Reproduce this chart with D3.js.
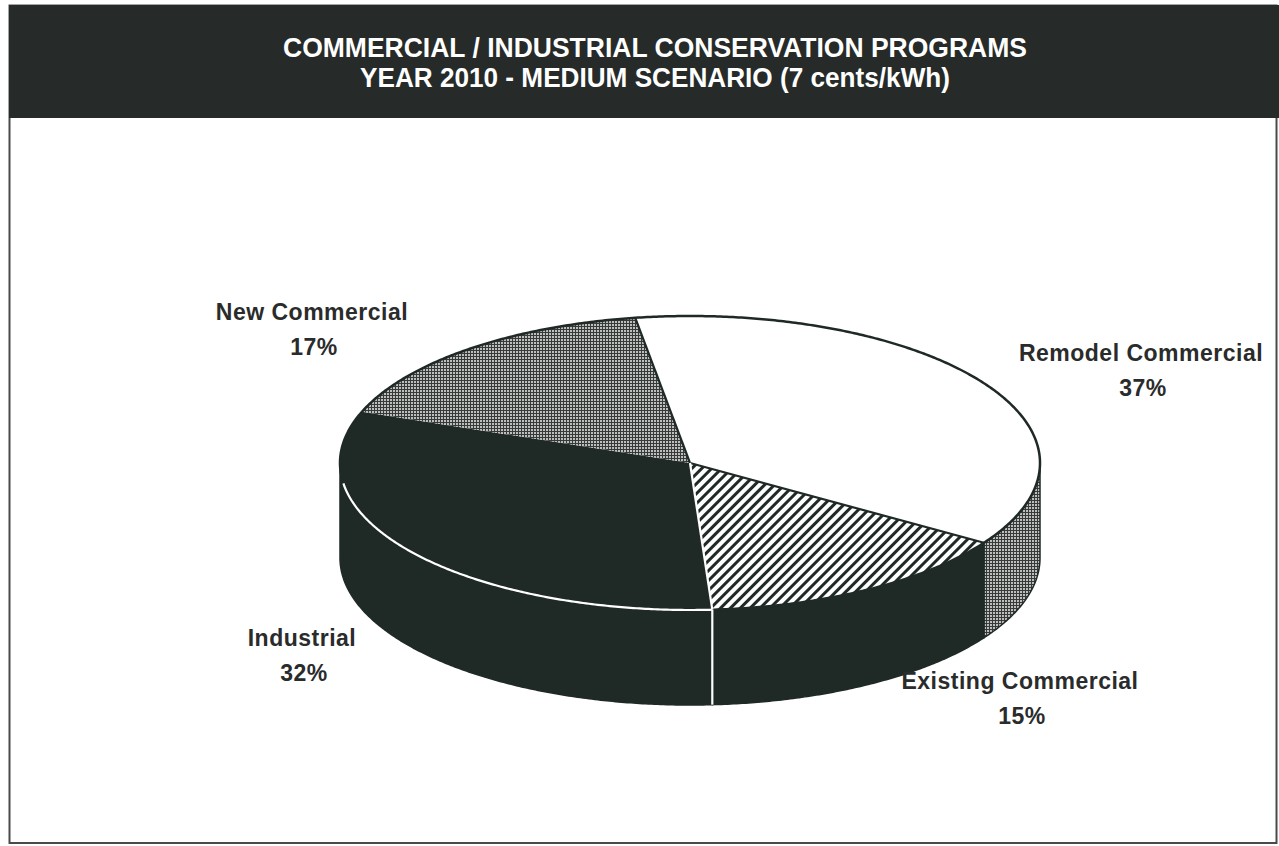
<!DOCTYPE html>
<html>
<head>
<meta charset="utf-8">
<script src="https://cdn.jsdelivr.net/npm/d3@7"></script>
<style>
  html, body { margin: 0; padding: 0; background: #ffffff; }
  svg { display: block; }
</style>
</head>
<body>
<svg id="chart" width="1279" height="846"></svg>
<script>
// ---- data ----
const titleLines = [
  "COMMERCIAL / INDUSTRIAL CONSERVATION PROGRAMS",
  "YEAR 2010 - MEDIUM SCENARIO (7 cents/kWh)"
];
const categories = ["Remodel Commercial", "Existing Commercial", "Industrial", "New Commercial"];
const shares = [37, 15, 32, 17];
const shareLabels = ["37%", "15%", "32%", "17%"];

// ---- layout & styling ----
const W = 1279, H = 846;
const DARK = "#1f2a27";
const INK = "#2a2b2b";
const cx = 690, cy = 463, rx = 350, ry = 147, depth = 95;
const deg = Math.PI / 180;

const svg = d3.select("#chart");
const defs = svg.append("defs");

// diagonal hatch
const hatch = defs.append("pattern")
  .attr("id", "hatch").attr("patternUnits", "userSpaceOnUse")
  .attr("width", 7).attr("height", 7)
  .attr("patternTransform", "rotate(45)");
hatch.append("rect").attr("width", 7).attr("height", 7).attr("fill", "#ffffff");
hatch.append("rect").attr("width", 3).attr("height", 7).attr("fill", DARK);

// fine stipple
const dots = defs.append("pattern")
  .attr("id", "stipple").attr("patternUnits", "userSpaceOnUse")
  .attr("width", 3).attr("height", 3);
dots.append("rect").attr("width", 3).attr("height", 3).attr("fill", "#363b39");
dots.append("rect").attr("width", 2).attr("height", 2).attr("fill", "#bdbebd");

const topFill = {
  "Remodel Commercial": "#ffffff",
  "Existing Commercial": "url(#hatch)",
  "Industrial": DARK,
  "New Commercial": "url(#stipple)"
};
const sideFill = {
  "Remodel Commercial": "url(#stipple)",
  "Existing Commercial": DARK,
  "Industrial": DARK,
  "New Commercial": "url(#stipple)"
};

// label anchor points (centre x, baseline of the name line)
const labelPos = {
  "Remodel Commercial": [1141, 361],
  "Existing Commercial": [1020, 689],
  "Industrial": [302, 646],
  "New Commercial": [312, 320]
};

// ---- frame & title band ----
svg.append("rect")
  .attr("x", 9.5).attr("y", 5.5).attr("width", 1267).attr("height", 837.5)
  .attr("fill", "none").attr("stroke", "#4a4a4a").attr("stroke-width", 2);
svg.append("rect")
  .attr("x", 9).attr("y", 5).attr("width", W - 9).attr("height", 113)
  .attr("fill", "#262a28");

const titleWidths = [744, 590];
svg.selectAll("text.title")
  .data(titleLines)
  .join("text")
  .attr("class", "title")
  .attr("x", 655)
  .attr("y", (d, i) => 57 + i * 30)
  .attr("text-anchor", "middle")
  .attr("fill", "#ffffff")
  .attr("font-family", "'Liberation Sans Narrow', 'Arial Narrow', 'Liberation Sans', Arial, sans-serif")
  .attr("font-weight", "bold")
  .attr("font-size", 27)
  .attr("textLength", (d, i) => titleWidths[i])
  .attr("lengthAdjust", "spacingAndGlyphs")
  .text(d => d);

// ---- pie geometry ----
const rows = categories.map((c, i) => ({ cat: c, value: shares[i], label: shareLabels[i] }));
const pie = d3.pie()
  .sort(null)
  .value(d => d.value)
  .startAngle(-9 * deg)
  .endAngle(351 * deg);
const arcs = pie(rows);

// d3 angle (0 at 12 o'clock, clockwise) -> point on the tilted ellipse
const pt = (a, dy = 0) => [cx + rx * Math.sin(a), cy - ry * Math.cos(a) + dy];
const sweep = (a0, a1, dy = 0) => {
  const n = Math.max(2, Math.ceil(Math.abs(a1 - a0) / (0.5 * deg)));
  return d3.range(n + 1).map(i => pt(a0 + (a1 - a0) * i / n, dy));
};
const line = d3.line();

// visible side walls: front half only (angles between 90° and 270°)
const front0 = Math.PI / 2, front1 = 3 * Math.PI / 2;
const sides = arcs.map(a => {
  const s = Math.max(a.startAngle, front0), e = Math.min(a.endAngle, front1);
  return s < e ? { a, s, e } : null;
}).filter(Boolean);

svg.append("g").selectAll("path")
  .data(sides)
  .join("path")
  .attr("d", d => line(sweep(d.s, d.e).concat(sweep(d.e, d.s, depth))) + "Z")
  .attr("fill", d => sideFill[d.a.data.cat])
  .attr("stroke", DARK)
  .attr("stroke-width", 1.5)
  .attr("stroke-linejoin", "round");

// top faces
svg.append("g").selectAll("path")
  .data(arcs)
  .join("path")
  .attr("d", a => line([[cx, cy]].concat(sweep(a.startAngle, a.endAngle))) + "Z")
  .attr("fill", a => topFill[a.data.cat])
  .attr("stroke", "none");

// rim of the top face
svg.append("path")
  .attr("d", line(sweep(0, 2 * Math.PI)) + "Z")
  .attr("fill", "none")
  .attr("stroke", DARK)
  .attr("stroke-width", 2.5);

// slice divider lines
const byCat = Object.fromEntries(arcs.map(a => [a.data.cat, a]));
const dividers = [
  { ang: byCat["Remodel Commercial"].startAngle, color: DARK },
  { ang: byCat["Existing Commercial"].startAngle, color: DARK },
  { ang: byCat["Industrial"].startAngle, color: "#ffffff" }
];
svg.append("g").selectAll("path")
  .data(dividers)
  .join("path")
  .attr("d", d => line([[cx, cy], pt(d.ang)]))
  .attr("stroke", d => d.color)
  .attr("stroke-width", 2.2)
  .attr("fill", "none");

// white edge where the industrial top meets its side wall, and the seam between walls
const ind = byCat["Industrial"];
svg.append("path")
  .attr("d", line(sweep(ind.startAngle, Math.min(ind.endAngle, front1 - 8 * deg))))
  .attr("fill", "none").attr("stroke", "#ffffff").attr("stroke-width", 2.2);
svg.append("path")
  .attr("d", line([pt(ind.startAngle), pt(ind.startAngle, depth)]))
  .attr("fill", "none").attr("stroke", "#ffffff").attr("stroke-width", 2.2);

// ---- labels ----
const lab = svg.append("g")
  .attr("font-family", "'Liberation Sans', Arial, Helvetica, sans-serif")
  .attr("font-weight", "bold")
  .attr("font-size", 23)
  .attr("fill", INK)
  .attr("text-anchor", "middle")
  .attr("letter-spacing", 0.5);

lab.selectAll("text.name")
  .data(arcs)
  .join("text")
  .attr("class", "name")
  .attr("x", a => labelPos[a.data.cat][0])
  .attr("y", a => labelPos[a.data.cat][1])
  .text(a => a.data.cat);

lab.selectAll("text.pct")
  .data(arcs)
  .join("text")
  .attr("class", "pct")
  .attr("x", a => labelPos[a.data.cat][0] + 2)
  .attr("y", a => labelPos[a.data.cat][1] + 35)
  .text(a => a.data.label);
</script>
</body>
</html>
